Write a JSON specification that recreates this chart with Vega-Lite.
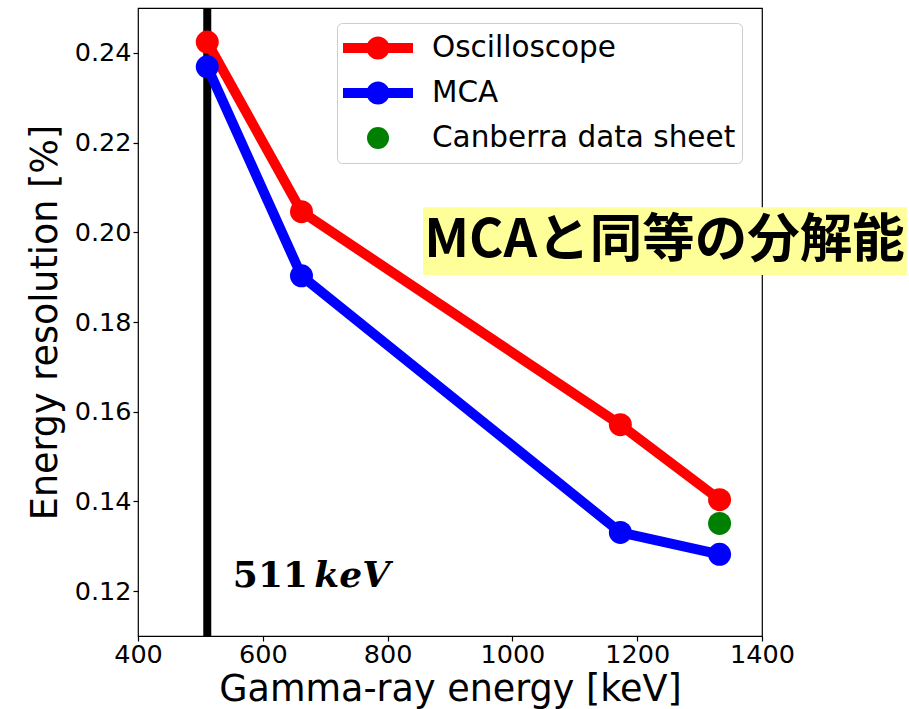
{
  "$schema": "https://vega.github.io/schema/vega-lite/v6.json",
  "width": 624,
  "height": 628,
  "autosize": {"type": "none"},
  "padding": {"left": 138, "top": 8, "right": 147, "bottom": 73},
  "background": "white",
  "config": {
    "view": {"stroke": "black", "strokeWidth": 1.2},
    "axis": {
      "domain": false,
      "grid": false,
      "ticks": true,
      "tickColor": "black",
      "tickSize": 5,
      "tickWidth": 1.2,
      "labelFlush": false,
      "labelOverlap": false,
      "labelFont": "DejaVu Sans",
      "labelFontSize": 25.5,
      "labelColor": "black",
      "titleFont": "DejaVu Sans",
      "titleFontSize": 36.5,
      "titleFontWeight": "normal",
      "titleColor": "black"
    }
  },
  "datasets": {
    "measurements": [
      {"energy": 511, "resolution": 0.2424, "series": "Oscilloscope"},
      {"energy": 662, "resolution": 0.2046, "series": "Oscilloscope"},
      {"energy": 1173, "resolution": 0.1571, "series": "Oscilloscope"},
      {"energy": 1332, "resolution": 0.1404, "series": "Oscilloscope"},
      {"energy": 511, "resolution": 0.2369, "series": "MCA"},
      {"energy": 662, "resolution": 0.1903, "series": "MCA"},
      {"energy": 1173, "resolution": 0.1331, "series": "MCA"},
      {"energy": 1332, "resolution": 0.1282, "series": "MCA"},
      {"energy": 1332, "resolution": 0.1351, "series": "Canberra data sheet"}
    ],
    "annihilation": [{"energy": 511}],
    "highlight": [
      {"energy": 856.7, "energy_end": 1632, "resolution": 0.2056, "resolution_end": 0.1905}
    ],
    "note": [
      {"energy": 1243.7, "resolution": 0.1981, "label": "MCAと同等の分解能"}
    ],
    "lineLabelNumber": [
      {"energy": 552, "resolution": 0.1209, "label": "511"}
    ],
    "lineLabelUnit": [
      {"energy": 804, "resolution": 0.1209, "label": "keV"}
    ]
  },
  "layer": [
    {
      "data": {"name": "annihilation"},
      "mark": {"type": "rule", "color": "black", "strokeWidth": 8},
      "encoding": {
        "x": {"field": "energy", "type": "quantitative", "scale": {"domain": [400, 1400], "nice": false, "zero": false},
              "axis": {"values": [400, 600, 800, 1000, 1200, 1400], "format": "d", "title": "Gamma-ray energy [keV]", "labelPadding": 1, "titlePadding": 4}}
      }
    },
    {
      "data": {"name": "measurements"},
      "transform": [{"filter": "datum.series === 'Oscilloscope'"}],
      "mark": {"type": "line", "strokeWidth": 10, "strokeJoin": "round"},
      "encoding": {
        "x": {"field": "energy", "type": "quantitative", "scale": {"domain": [400, 1400], "nice": false, "zero": false},
              "axis": {"values": [400, 600, 800, 1000, 1200, 1400], "format": "d", "title": "Gamma-ray energy [keV]", "labelPadding": 1, "titlePadding": 4}},
        "y": {"field": "resolution", "type": "quantitative", "scale": {"domain": [0.11, 0.25], "nice": false, "zero": false},
              "axis": {"values": [0.12, 0.14, 0.16, 0.18, 0.2, 0.22, 0.24], "format": ".2f", "title": "Energy resolution [%]", "labelPadding": 2, "titlePadding": 10}},
        "color": {
          "field": "series",
          "type": "nominal",
          "scale": {"domain": ["Oscilloscope", "MCA", "Canberra data sheet"], "range": ["#ff0000", "#0000ff", "#008000"]},
          "legend": {
            "title": null,
            "orient": "none",
            "legendX": 199,
            "legendY": 15,
            "padding": 6,
            "rowPadding": 7,
            "clipHeight": 38,
            "symbolSize": 4900,
            "symbolOffset": 0,
            "symbolStrokeWidth": 0,
            "labelOffset": 19,
            "labelLimit": 500,
            "labelFont": "DejaVu Sans",
            "labelFontSize": 29.5,
            "labelColor": "black",
            "strokeColor": "#cccccc",
            "fillColor": "white",
            "cornerRadius": 5,
            "encode": {
              "symbols": {
                "update": {
                  "shape": {"signal": "datum.value === 'Canberra data sheet' ? 'circle' : 'M-1,-0.14H1V0.14H-1Z M-0.33,0A0.33,0.33 0 1,1 0.33,0A0.33,0.33 0 1,1 -0.33,0Z'"},
                  "size": {"signal": "datum.value === 'Canberra data sheet' ? 484 : 4900"},
                  "fill": {"signal": "scale('color', datum.value)"},
                  "fillOpacity": {"value": 1},
                  "opacity": {"value": 1},
                  "strokeWidth": {"value": 0}
                }
              }
            }
          }
        }
      }
    },
    {
      "data": {"name": "measurements"},
      "transform": [{"filter": "datum.series === 'Oscilloscope'"}],
      "mark": {"type": "point", "filled": true, "opacity": 1, "size": 529},
      "encoding": {
        "x": {"field": "energy", "type": "quantitative"},
        "y": {"field": "resolution", "type": "quantitative"},
        "color": {"field": "series", "type": "nominal"}
      }
    },
    {
      "data": {"name": "measurements"},
      "transform": [{"filter": "datum.series === 'MCA'"}],
      "mark": {"type": "line", "strokeWidth": 10, "strokeJoin": "round"},
      "encoding": {
        "x": {"field": "energy", "type": "quantitative"},
        "y": {"field": "resolution", "type": "quantitative"},
        "color": {"field": "series", "type": "nominal"}
      }
    },
    {
      "data": {"name": "measurements"},
      "transform": [{"filter": "datum.series !== 'Oscilloscope'"}],
      "mark": {"type": "point", "filled": true, "opacity": 1, "size": 529},
      "encoding": {
        "x": {"field": "energy", "type": "quantitative"},
        "y": {"field": "resolution", "type": "quantitative"},
        "color": {"field": "series", "type": "nominal"}
      }
    },
    {
      "data": {"name": "highlight"},
      "mark": {"type": "rect", "color": "#ffff99"},
      "encoding": {
        "x": {"field": "energy", "type": "quantitative"},
        "x2": {"field": "energy_end"},
        "y": {"field": "resolution", "type": "quantitative"},
        "y2": {"field": "resolution_end"}
      }
    },
    {
      "data": {"name": "note"},
      "mark": {"type": "text", "font": "Noto Sans CJK JP", "fontWeight": "bold", "fontSize": 52.5, "color": "black", "align": "center", "baseline": "middle"},
      "encoding": {
        "x": {"field": "energy", "type": "quantitative"},
        "y": {"field": "resolution", "type": "quantitative"},
        "text": {"field": "label"}
      }
    },
    {
      "data": {"name": "lineLabelNumber"},
      "mark": {"type": "text", "font": "DejaVu Serif", "fontWeight": "bold", "fontSize": 36, "color": "black", "align": "left", "baseline": "alphabetic"},
      "encoding": {
        "x": {"field": "energy", "type": "quantitative"},
        "y": {"field": "resolution", "type": "quantitative"},
        "text": {"field": "label"}
      }
    },
    {
      "data": {"name": "lineLabelUnit"},
      "mark": {"type": "text", "font": "DejaVu Serif", "fontWeight": "bold", "fontStyle": "italic", "fontSize": 36, "color": "black", "align": "right", "baseline": "alphabetic"},
      "encoding": {
        "x": {"field": "energy", "type": "quantitative"},
        "y": {"field": "resolution", "type": "quantitative"},
        "text": {"field": "label"}
      }
    }
  ]
}
